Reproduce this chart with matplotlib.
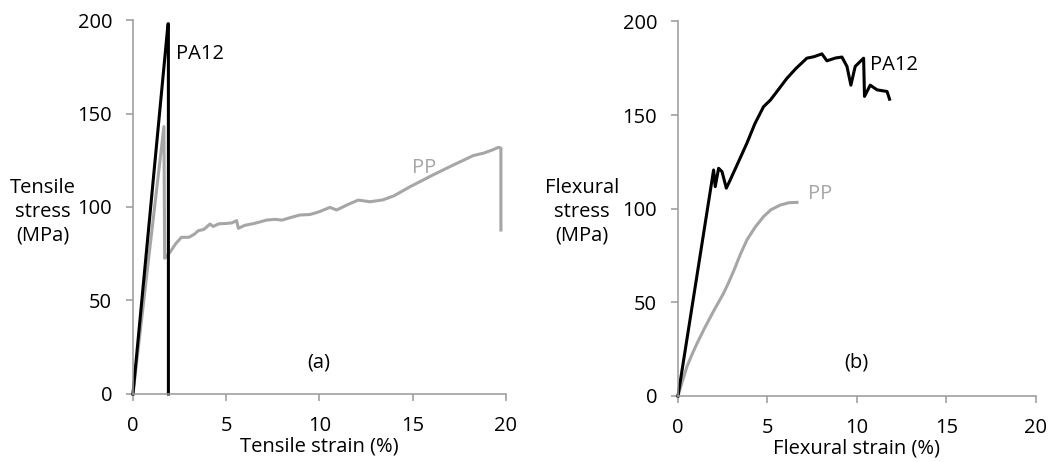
import matplotlib
matplotlib.use('Agg')
import matplotlib.pyplot as plt

# tensile test curves (strain %, stress MPa)
pa12_tens_x = [0.0, 1.88, 1.9, 1.9]
pa12_tens_y = [0.0, 198.0, 198.0, 0.0]

pp_tens_x = [0.0, 1.66, 1.7, 2.0, 2.3, 2.6, 3.0, 3.3, 3.5, 3.8, 4.13, 4.3, 4.6, 5.0, 5.3, 5.56, 5.65,
             6.0, 6.5, 7.17, 7.6, 8.0, 8.5, 8.95, 9.5, 10.0, 10.56, 10.92, 11.5, 12.08, 12.7, 13.4,
             14.0, 14.85, 16.1, 17.0, 18.25, 18.8, 19.3, 19.59, 19.73, 19.73]
pp_tens_y = [0.0, 143.0, 72.6, 76.0, 80.5, 83.8, 83.8, 85.5, 87.3, 88.0, 90.9, 89.6, 91.0, 91.2, 91.5,
             92.7, 88.6, 90.2, 91.2, 93.0, 93.4, 93.0, 94.5, 95.7, 96.0, 97.5, 99.8, 98.4, 101.2, 103.7,
             102.8, 103.8, 106.0, 110.8, 117.2, 121.6, 127.5, 128.8, 130.6, 131.9, 131.5, 87.7]

# flexural test curves
pa12_flex_x = [0.0, 1.99, 2.08, 2.27, 2.46, 2.7, 2.92, 3.4, 3.85, 4.3, 4.78, 5.16, 5.6, 6.09, 6.6,
               7.2, 7.6, 8.04, 8.32, 8.8, 9.16, 9.44, 9.66, 9.9, 10.37, 10.42, 10.74, 11.12, 11.68, 11.82]
pa12_flex_y = [0.0, 120.7, 111.8, 121.6, 119.8, 111.0, 115.4, 125.5, 135.0, 145.5, 154.5, 158.0, 163.5,
               169.7, 175.0, 180.4, 181.2, 182.7, 179.0, 180.5, 181.0, 176.0, 166.0, 176.0, 180.4,
               160.0, 166.0, 163.5, 162.6, 158.5]

pp_flex_x = [0.0, 0.25, 0.5, 0.8, 1.06, 1.5, 2.0, 2.55, 2.8, 3.1, 3.5, 3.85, 4.3, 4.78, 5.2, 5.72, 6.2, 6.65]
pp_flex_y = [0.0, 8.0, 15.7, 22.5, 28.0, 36.5, 45.5, 54.9, 60.0, 66.5, 76.0, 83.3, 90.0, 95.8, 99.5,
             102.0, 103.2, 103.4]

plt.rcParams['font.family'] = ['Open Sans', 'DejaVu Sans']
axis_grey = '#999999'
pp_grey = '#a6a6a6'
fs = 14.5

fig = plt.figure(figsize=(10.62, 4.62), dpi=100)
ax1 = fig.add_axes([0.1252, 0.1472, 0.3512, 0.8095])
ax2 = fig.add_axes([0.6384, 0.1429, 0.3371, 0.8106])

for ax in (ax1, ax2):
    ax.set_xlim(0, 20)
    ax.set_ylim(0, 200)
    ax.set_xticks([0, 5, 10, 15, 20])
    ax.set_yticks([0, 50, 100, 150, 200])
    for s in ('top', 'right'):
        ax.spines[s].set_visible(False)
    for s in ('left', 'bottom'):
        ax.spines[s].set_color(axis_grey)
        ax.spines[s].set_linewidth(1.1)
    ax.tick_params(direction='out', length=5, width=1.1, color=axis_grey,
                   labelsize=fs, labelcolor='black')
    ax.tick_params(axis='x', pad=11)
    ax.tick_params(axis='y', pad=10)

ax1.plot(pp_tens_x, pp_tens_y, color=pp_grey, lw=2.2, clip_on=False)
ax1.plot(pa12_tens_x, pa12_tens_y, color='black', lw=2.2, clip_on=False)
ax1.text(2.3, 182, 'PA12', fontsize=fs, va='center')
ax1.text(14.95, 121, 'PP', fontsize=fs, va='center', color=pp_grey)
ax1.text(9.97, 17, '(a)', fontsize=fs, ha='center', va='center')
ax1.set_xlabel('Tensile strain (%)', fontsize=fs, labelpad=0)

ax2.plot(pp_flex_x, pp_flex_y, color=pp_grey, lw=2.2, clip_on=False)
ax2.plot(pa12_flex_x, pa12_flex_y, color='black', lw=2.2, clip_on=False)
ax2.text(10.74, 177, 'PA12', fontsize=fs, va='center')
ax2.text(7.24, 108, 'PP', fontsize=fs, va='center', color=pp_grey)
ax2.text(9.96, 18, '(b)', fontsize=fs, ha='center', va='center')
ax2.set_xlabel('Flexural strain (%)', fontsize=fs, labelpad=0)

fig.text(0.0405, 0.541, 'Tensile\nstress\n(MPa)', fontsize=fs, ha='center', va='center', linespacing=1.25)
fig.text(0.5477, 0.542, 'Flexural\nstress\n(MPa)', fontsize=fs, ha='center', va='center', linespacing=1.25)

fig.savefig('out.png', dpi=100)
